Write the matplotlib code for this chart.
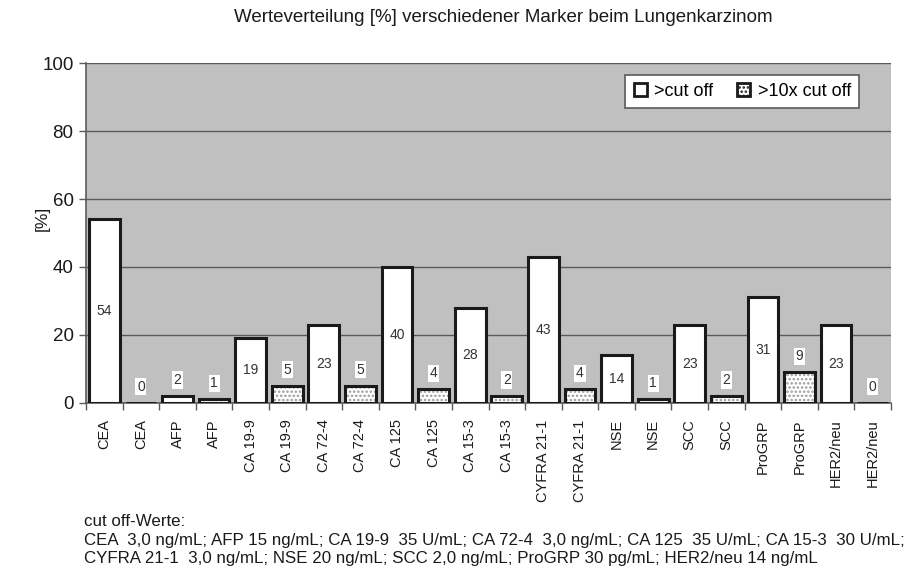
import matplotlib
matplotlib.use("Agg")
import matplotlib.pyplot as plt
import matplotlib.patches as mpatches
from matplotlib import font_manager
import numpy as np

categories = ["CEA", "CEA", "AFP", "AFP", "CA 19-9", "CA 19-9", "CA 72-4", "CA 72-4",
              "CA 125", "CA 125", "CA 15-3", "CA 15-3", "CYFRA 21-1", "CYFRA 21-1",
              "NSE", "NSE", "SCC", "SCC", "ProGRP", "ProGRP", "HER2/neu", "HER2/neu"]
values = [54, 0, 2, 1, 19, 5, 23, 5, 40, 4, 28, 2, 43, 4, 14, 1, 23, 2, 31, 9, 23, 0]
# series: 0 = >cut off, 1 = >10x cut off
series = [0, 1] * 11
series_names = [">cut off", ">10x cut off"]
yticks = [0, 20, 40, 60, 80, 100]

title = "Werteverteilung [%] verschiedener Marker beim Lungenkarzinom"
footnote = ["cut off-Werte:",
            "CEA  3,0 ng/mL; AFP 15 ng/mL; CA 19-9  35 U/mL; CA 72-4  3,0 ng/mL; CA 125  35 U/mL; CA 15-3  30 U/mL;",
            "CYFRA 21-1  3,0 ng/mL; NSE 20 ng/mL; SCC 2,0 ng/mL; ProGRP 30 pg/mL; HER2/neu 14 ng/mL"]

names = {f.name for f in font_manager.fontManager.ttflist}
base = "Liberation Sans" if "Liberation Sans" in names else "DejaVu Sans"
plt.rcParams['font.family'] = [base, 'DejaVu Sans']
plt.rcParams['hatch.linewidth'] = 1.2

fig = plt.figure(figsize=(9.05, 5.71), dpi=100)
W, H = 905, 571
L, R, T, B = 86, 891, 63.3, 402.7
ax = fig.add_axes([L / W, 1 - B / H, (R - L) / W, (B - T) / H])
ax.set_facecolor("#c0c0c0")

x = np.arange(len(categories))
vals = np.array(values)
ser = np.array(series)
width = 0.84

# fills
for s in (0, 1):
    m = ser == s
    if s == 0:
        ax.bar(x[m], vals[m], width=width, color="white", linewidth=0, zorder=3)
    else:
        ax.bar(x[m], vals[m], width=width, color="white", edgecolor="#9a9a9a",
               hatch="....", linewidth=0, zorder=3)
# outlines
ax.bar(x, vals, width=width, fill=False, edgecolor="#1a1a1a", linewidth=2.2, zorder=4)

for xi, v in zip(x, vals):
    y = v / 2 if v >= 10 else v + 4.7
    ax.text(xi, y, str(v), ha="center", va="center", fontsize=10, color="#333333",
            bbox=dict(boxstyle="square,pad=0.12", facecolor="white", edgecolor="none"),
            zorder=6)

ax.set_xlim(-0.5, len(categories) - 0.5)
ax.set_ylim(0, 100)
ax.set_yticks(yticks)
ax.set_yticklabels([str(t) for t in yticks], fontsize=13.5, color="#1a1a1a")
ax.yaxis.grid(True, color="#5a5a5a", linewidth=1.0, zorder=1)
ax.set_axisbelow(True)

ax.set_xticks(x)
ax.set_xticklabels(categories, rotation=90, fontsize=10.5, color="#1a1a1a")
ax.tick_params(axis="x", length=0, pad=12)
ax.set_xticks(np.arange(len(categories) + 1) - 0.5, minor=True)
ax.tick_params(axis="x", which="minor", length=5, color="#5a5a5a", width=1)
ax.tick_params(axis="y", length=5, color="#5a5a5a", width=1, pad=4)

for sp in ("top", "right"):
    ax.spines[sp].set_visible(False)
for sp in ("left", "bottom"):
    ax.spines[sp].set_color("#5a5a5a")
    ax.spines[sp].set_linewidth(1.2)

ax.set_ylabel("[%]", fontsize=12.5, color="#1a1a1a")
ax.yaxis.set_label_coords((50 - L) / (R - L), (B - 218) / (B - T))

handles = [mpatches.Patch(facecolor="white", edgecolor="#1a1a1a", linewidth=2),
           mpatches.Patch(facecolor="white", edgecolor="#1a1a1a", linewidth=2, hatch="....")]
leg = ax.legend(handles, series_names, loc="upper right", ncol=2, fontsize=13,
                frameon=True, fancybox=False, edgecolor="#5a5a5a", framealpha=1,
                handlelength=0.75, handleheight=0.75, handletextpad=0.4, columnspacing=1.3,
                borderpad=0.45, borderaxespad=0,
                bbox_to_anchor=((859 - L) / (R - L), 1 - (75 - T) / (B - T)))
leg.get_frame().set_linewidth(1.2)
leg.set_zorder(7)

fig.text(503 / W, 1 - 18 / H, title, ha="center", va="center", fontsize=13.5,
         color="#1a1a1a")
for i, line in enumerate(footnote):
    fig.text(84 / W, 1 - (521 + 19 * i) / H, line, ha="left", va="center", fontsize=12.2,
             color="#1a1a1a")

fig.savefig("out.png", dpi=100)
